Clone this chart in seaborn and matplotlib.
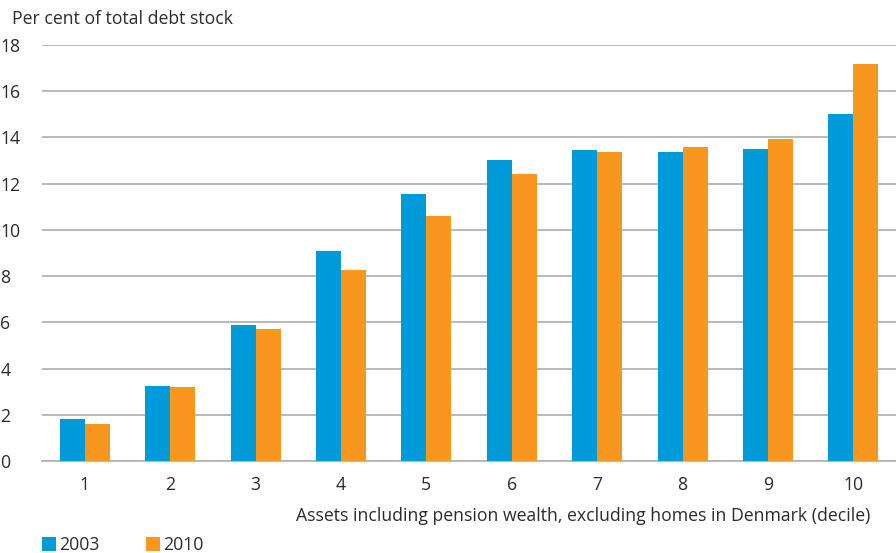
import matplotlib
matplotlib.use("Agg")
import matplotlib.pyplot as plt
import seaborn as sns
import pandas as pd
import numpy as np
from matplotlib.patches import Patch

deciles = ["1", "2", "3", "4", "5", "6", "7", "8", "9", "10"]
values_2003 = [1.8, 3.25, 5.9, 9.1, 11.55, 13.02, 13.46, 13.38, 13.48, 15.02]
values_2010 = [1.6, 3.2, 5.72, 8.27, 10.6, 12.42, 13.38, 13.6, 13.94, 17.18]
years = ["2003", "2010"]
colors = ["#009ad8", "#f7971d"]
yticks = [0, 2, 4, 6, 8, 10, 12, 14, 16, 18]

df = pd.DataFrame({
    "decile": deciles * 2,
    "value": values_2003 + values_2010,
    "year": [years[0]] * len(deciles) + [years[1]] * len(deciles),
})

sns.set_theme(style="white")
plt.rcParams["font.family"] = ["Open Sans", "DejaVu Sans"]
text_color = "#2b2b2b"
grid_color = "#b3b3b3"
fs = 12.7

fig = plt.figure(figsize=(8.96, 5.53), dpi=100)
ax = fig.add_axes([0.047, 0.1664, 0.953, 0.7522])

sns.barplot(data=df, x="decile", y="value", hue="year", order=deciles,
            hue_order=years, palette=colors, width=0.585, saturation=1,
            ax=ax, legend=False, linewidth=0, edgecolor="none")

ax.set_ylim(0, 18)
ax.set_xlim(-0.5, len(deciles) - 0.5)
ax.set_yticks(yticks)
ax.set_yticklabels([str(t) for t in yticks])
ax.yaxis.grid(True, color=grid_color, linewidth=1.3)
ax.set_axisbelow(True)
for s in ["top", "right", "left"]:
    ax.spines[s].set_visible(False)
ax.spines["bottom"].set_color(grid_color)
ax.spines["bottom"].set_linewidth(1.3)
ax.spines["bottom"].set_zorder(0.5)

ax.set_xticks(range(len(deciles)))
ax.set_xticklabels(deciles)
ax.set_xticks(np.arange(-0.5, len(deciles), 1.0), minor=True)
ax.tick_params(axis="x", which="major", length=0, pad=11, labelsize=fs, labelcolor=text_color)
ax.tick_params(axis="x", which="minor", length=6, width=1.3, direction="in", color=grid_color)
ax.tick_params(axis="y", length=0, labelsize=fs, labelcolor=text_color)
for lab in ax.get_yticklabels():
    lab.set_horizontalalignment("left")
ax.tick_params(axis="y", pad=30)

ax.set_xlabel("")
ax.set_ylabel("")

fig.text(12 / 896, 1 - 19 / 553, "Per cent of total debt stock", fontsize=fs,
         color=text_color, ha="left", va="center")
fig.text(870 / 896, 1 - 516 / 553,
         "Assets including pension wealth, excluding homes in Denmark (decile)",
         fontsize=fs, color=text_color, ha="right", va="center")

handles = [Patch(facecolor=c, edgecolor="none") for c in colors]
fig.legend(handles, years, loc="center left", bbox_to_anchor=(26 / 896, 1 - 545 / 553),
           ncol=2, frameon=False, fontsize=fs, handlelength=0.8, handleheight=0.8,
           handletextpad=0.2, columnspacing=2.6, labelcolor=text_color)

fig.savefig("out.png", dpi=100)
